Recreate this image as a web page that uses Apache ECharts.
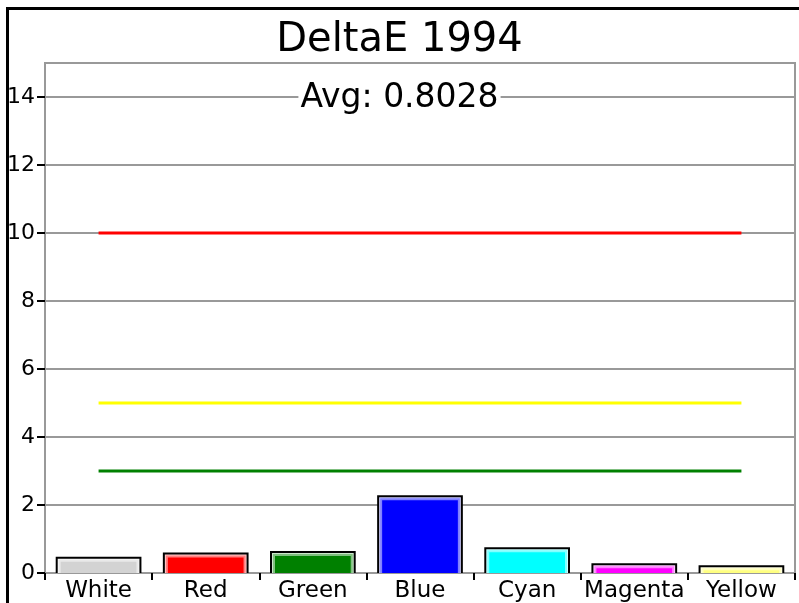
<!DOCTYPE html>
<html><head><meta charset="utf-8">
<script src="https://cdn.jsdelivr.net/npm/echarts@6/dist/echarts.min.js"></script>
<style>html,body{margin:0;padding:0;background:#fff}#c{width:799px;height:603px}</style>
</head><body><div id="c"></div>
<script>
const categories = ['White','Red','Green','Blue','Cyan','Magenta','Yellow'];
const deltaE = [0.48, 0.60, 0.65, 2.29, 0.76, 0.29, 0.23];
const barColors = ['#d3d3d3','#ff0000','#008000','#0000ff','#00ffff','#ff00ff','#ffff80'];
const limitRed = [10,10,10,10,10,10,10];
const limitYellow = [5,5,5,5,5,5,5];
const limitGreen = [3,3,3,3,3,3,3];
const yTicks = [0,2,4,6,8,10,12,14];
const titleText = 'DeltaE 1994';
const avgText = 'Avg: 0.8028';

const chart = echarts.init(document.getElementById('c'), null, {renderer:'canvas'});
const font = '"DejaVu Sans", Verdana, sans-serif';
function lighten(hex, t){
  const n = parseInt(hex.slice(1),16);
  const r=(n>>16)&255, g=(n>>8)&255, b=n&255;
  const m = c => Math.round(c + (255-c)*t);
  return 'rgb(' + m(r) + ',' + m(g) + ',' + m(b) + ')';
}
function limitSeries(d, c){
  return {type:'line', data:d, symbol:'none', silent:true, z:3,
    lineStyle:{color:c, width:3}};
}
function renderBar(params, api){
  const idx = api.value(0), val = api.value(1);
  const base = api.coord([idx, 0]);
  const top = api.coord([idx, val]);
  const w = api.size([1, 0])[0] * 0.8;
  const x = base[0] - w/2, y = top[1], h = base[1] - top[1];
  const col = barColors[idx];
  const inset = (k) => ({x:x+k, y:y+k, width:Math.max(w-2*k,0), height:Math.max(h-k,0)});
  return {type:'group', children:[
    {type:'rect', shape:inset(0), style:{fill:'#000'}},
    {type:'rect', shape:inset(2), style:{fill:lighten(col,0.8)}},
    {type:'rect', shape:inset(3), style:{fill:lighten(col,0.5)}},
    {type:'rect', shape:inset(5), style:{fill:col}}
  ]};
}
chart.setOption({
  animation:false,
  graphic:[
    {type:'rect', left:5, top:6, shape:{width:800, height:610},
     style:{fill:'none', stroke:'#000', lineWidth:3}, z:-1},
    {type:'text', left:'center', top:21, z:10,
     style:{text:titleText, font:'40px ' + font, fill:'#000'}},
    {type:'text', left:'center', top:82, z:10,
     style:{text:avgText, font:'33px ' + font, fill:'#000', backgroundColor:'#fff', padding:[0,2]}}
  ],
  grid:{left:45, right:4, top:63, bottom:30, show:true, borderColor:'#999', borderWidth:2},
  xAxis:{type:'category', data:categories, boundaryGap:true,
    axisLine:{lineStyle:{color:'#999', width:2}},
    axisTick:{show:true, length:7, lineStyle:{color:'#000', width:2}},
    axisLabel:{interval:0, fontFamily:font, fontSize:23, color:'#000', margin:7}},
  yAxis:{type:'value', min:0, max:15, interval:2,
    axisLine:{show:true, lineStyle:{color:'#999', width:2}},
    axisTick:{show:true, length:8, customValues:yTicks, lineStyle:{color:'#000', width:2}},
    splitLine:{lineStyle:{color:'#999', width:2}},
    axisLabel:{customValues:yTicks, fontFamily:font, fontSize:22, color:'#000', margin:10,
      padding:[5,0,0,0]}},
  series:[
    {type:'custom', renderItem:renderBar, z:2,
     data:deltaE.map((v,i)=>[i, v]), encode:{x:0, y:1}},
    limitSeries(limitRed,'#ff0000'),
    limitSeries(limitYellow,'#ffff00'),
    limitSeries(limitGreen,'#008000')
  ]
});
</script></body></html>
